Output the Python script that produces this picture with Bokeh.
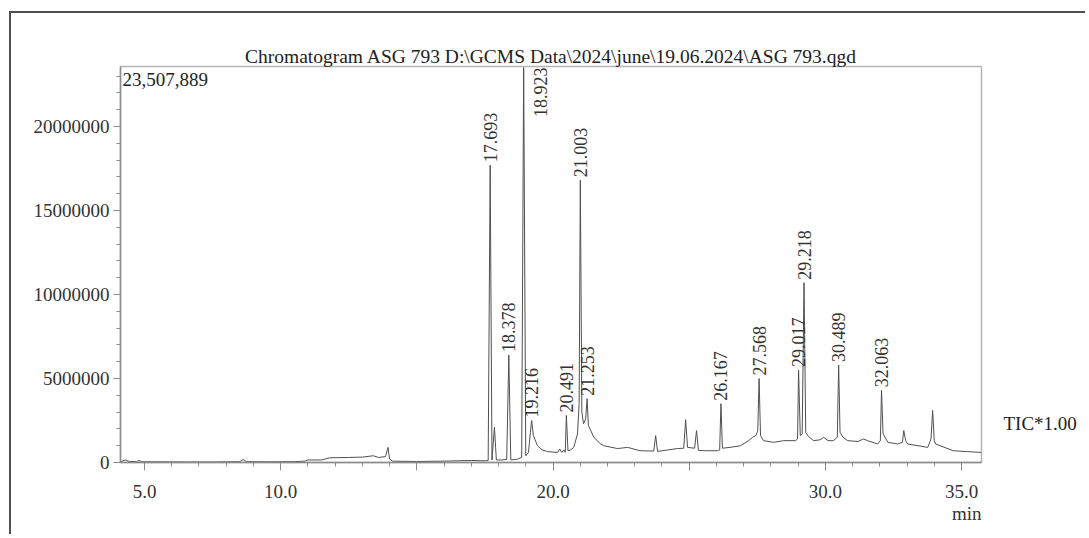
import math
from bokeh.plotting import figure
from bokeh.models import (ColumnDataSource, FixedTicker, NumeralTickFormatter,
                          Label, LabelSet, Range1d, LinearAxis, Title,
                          CustomJSTickFormatter)
from bokeh.embed import file_html
from bokeh.resources import INLINE

# ---------------- data ----------------
TITLE = "Chromatogram ASG 793 D:\\GCMS Data\\2024\\june\\19.06.2024\\ASG 793.qgd"
TRACE_NAME = "TIC*1.00"
X_UNIT = "min"

# retention time (min) of the TIC trace points
time_min = [
    4.12, 4.30, 4.45, 4.70, 4.80, 4.90, 5.5, 6.5, 7.5, 8.5, 8.62, 8.75, 9.5, 10.5,
    10.9, 11.0, 11.5, 11.8, 12.5, 13.0, 13.4, 13.6, 13.85, 13.94, 14.0, 14.1, 15.0,
    16.0, 17.0, 17.5, 17.62, 17.693, 17.76, 17.85, 17.92, 18.1, 18.30, 18.378, 18.45,
    18.7, 18.85, 18.923, 19.0, 19.1, 19.17, 19.216, 19.28, 19.43, 19.6, 19.8, 20.0,
    20.17, 20.25, 20.32, 20.40, 20.45, 20.491, 20.55, 20.65, 20.76, 20.9, 20.96,
    21.003, 21.06, 21.12, 21.2, 21.253, 21.3, 21.5, 21.75, 21.86, 22.37, 22.74, 23.2,
    23.70, 23.77, 23.84, 24.57, 24.80, 24.87, 24.94, 25.2, 25.27, 25.34, 25.6, 26.04,
    26.12, 26.167, 26.22, 26.5, 26.89, 27.18, 27.33, 27.45, 27.52, 27.568, 27.62,
    27.73, 28.1, 28.47, 28.9, 28.98, 29.017, 29.08, 29.15, 29.218, 29.28, 29.35,
    29.57, 29.80, 29.94, 30.1, 30.3, 30.44, 30.489, 30.54, 30.65, 30.82, 31.2, 31.4,
    31.55, 31.92, 32.02, 32.063, 32.12, 32.3, 32.65, 32.83, 32.88, 32.95, 33.02,
    33.4, 33.76, 33.88, 33.94, 34.0, 34.05, 34.7, 35.2, 35.73,
]
# intensity of the TIC trace points, in millions of counts
intensity_millions = [
    0.05, 0.15, 0.06, 0.05, 0.12, 0.04, 0.04, 0.03, 0.03, 0.05, 0.18, 0.05, 0.04, 0.05,
    0.08, 0.15, 0.15, 0.28, 0.30, 0.32, 0.40, 0.30, 0.35, 0.90, 0.20, 0.08, 0.06,
    0.08, 0.12, 0.10, 0.12, 17.7, 0.15, 2.1, 0.15, 0.15, 0.18, 6.4, 0.15,
    0.20, 0.30, 23.507889, 0.40, 0.60, 1.8, 2.5, 1.6, 1.0, 0.75, 0.65, 0.62,
    0.60, 0.80, 0.60, 0.75, 0.60, 2.8, 0.70, 0.75, 0.90, 1.7, 3.5,
    16.8, 3.0, 2.3, 2.6, 3.8, 2.2, 1.5, 1.1, 1.0, 0.83, 0.90, 0.70,
    0.68, 1.6, 0.66, 0.83, 0.85, 2.55, 0.90, 0.85, 1.9, 0.72, 0.70, 0.70,
    0.75, 3.5, 0.85, 0.90, 1.0, 1.3, 1.5, 1.6, 1.9, 5.0, 1.6,
    1.3, 1.2, 1.3, 1.3, 1.4, 5.5, 1.6, 1.7, 10.7, 1.8, 1.6,
    1.3, 1.35, 1.5, 1.3, 1.3, 1.5, 5.8, 1.8, 1.5, 1.3, 1.25, 1.4,
    1.3, 1.1, 1.3, 4.3, 1.7, 1.2, 1.1, 1.2, 1.9, 1.3, 1.1,
    1.0, 0.9, 1.4, 3.1, 1.3, 1.1, 0.7, 0.65, 0.6,
]

# labelled peaks
peak_rt = [17.693, 18.378, 18.923, 19.216, 20.491, 21.003, 21.253,
           26.167, 27.568, 29.017, 29.218, 30.489, 32.063]
peak_height = [17700000, 6400000, 23507889, 2500000, 2800000, 16800000, 3800000,
               3500000, 5000000, 5500000, 10700000, 5800000, 4300000]

x_major_ticks = [5, 10, 15, 20, 25, 30, 35]
x_unlabelled_ticks = [15, 25]
y_major_ticks = [0, 5000000, 10000000, 15000000, 20000000]

# ---------------- layout constants ----------------
FONT = "Liberation Serif"
OX, OY = 11, 13            # page position of the canvas (outer frame corner)
W, H = 1076, 523
FRAME_L, FRAME_T, FRAME_R, FRAME_B = 120, 66, 981, 462   # page pixels
PX_PER_MIN = (961 - 144) / 30.0
PX_PER_COUNT = (462 - 126) / 20000000.0
X0 = 5 - (144 - FRAME_L) / PX_PER_MIN
X1 = 35 + (FRAME_R - 961) / PX_PER_MIN
Y0 = 0.0
Y1 = (FRAME_B - FRAME_T) / PX_PER_COUNT

intensity = [v * 1e6 for v in intensity_millions]
source = ColumnDataSource(data=dict(t=time_min, i=intensity))

p = figure(width=W, height=H, output_backend="svg", toolbar_location=None,
           x_range=Range1d(X0, X1), y_range=Range1d(Y0, Y1),
           min_border_left=FRAME_L - OX, min_border_right=W - (FRAME_R - OX),
           min_border_top=FRAME_T - OY, min_border_bottom=H - (FRAME_B - OY),
           background_fill_color="white", border_fill_color="white",
           margin=(OY - 2, 0, 0, OX - 2))
p.styles = {"border-top": "2px solid #505050", "border-left": "2px solid #505050"}

p.line("t", "i", source=source, line_color="#505050", line_width=1.0)

# title
p.title.text = TITLE
p.title.align = "center"
p.title.text_font = FONT
p.title.text_font_size = "19.5px"
p.title.text_font_style = "normal"
p.title.text_color = "#222222"
p.title.standoff = 0

# grid / outline
p.xgrid.visible = False
p.ygrid.visible = False
p.outline_line_color = "#b5b5b5"
p.outline_line_width = 1.5

# x axis
p.xaxis.ticker = FixedTicker(ticks=x_major_ticks,
                             minor_ticks=list(range(5, 36)))
p.xaxis.formatter = NumeralTickFormatter(format="0.0")
p.xaxis.major_label_overrides = {t: "" for t in x_unlabelled_ticks}
# y axis
p.yaxis.ticker = FixedTicker(ticks=y_major_ticks,
                             minor_ticks=[k * 1000000 for k in range(0, 24)])
p.yaxis.formatter = NumeralTickFormatter(format="0")

for ax in (p.xaxis[0], p.yaxis[0]):
    ax.axis_line_color = "#8c8c8c"
    ax.axis_line_width = 1.5
    ax.major_tick_line_color = "#8c8c8c"
    ax.minor_tick_line_color = "#8c8c8c"
    ax.major_tick_in = 0
    ax.minor_tick_in = 0
    ax.major_label_text_font = FONT
    ax.major_label_text_font_size = "19px"
    ax.major_label_text_color = "#333333"
p.xaxis.major_tick_out = 8
p.xaxis.minor_tick_out = 4
p.xaxis.major_label_standoff = 14
p.yaxis.major_tick_out = 7
p.yaxis.minor_tick_out = 4
p.yaxis.major_label_standoff = 4

# unit label under the x axis, right-aligned with the frame
p.add_layout(Title(text=X_UNIT, align="right", text_font=FONT,
                   text_font_size="19px", text_font_style="normal",
                   text_color="#333333", standoff=0), "below")

# trace name at the right end of the trace
end_t, end_i = time_min[-1], intensity[-1]
tic_axis = LinearAxis(ticker=FixedTicker(ticks=[end_i + 29 / PX_PER_COUNT]),
                      formatter=CustomJSTickFormatter(code="return %r;" % TRACE_NAME),
                      axis_line_color=None, major_tick_line_color=None,
                      minor_tick_line_color=None, major_tick_out=0,
                      minor_tick_out=0, major_label_standoff=22,
                      major_label_text_font=FONT, major_label_text_font_size="19px",
                      major_label_text_color="#222222")
p.add_layout(tic_axis, "right")

# peak labels (the off-scale peak is labelled beside its line)
visible = [k for k, h in enumerate(peak_height) if h < Y1 * 0.97]
clipped = [k for k, h in enumerate(peak_height) if h >= Y1 * 0.97]
lab_src = ColumnDataSource(data=dict(
    x=[peak_rt[k] for k in visible],
    y=[peak_height[k] for k in visible],
    text=["%.3f" % peak_rt[k] for k in visible]))
p.add_layout(LabelSet(x="x", y="y", text="text", source=lab_src,
                      angle=math.pi / 2, text_align="left",
                      text_baseline="middle", y_offset=3,
                      text_font=FONT, text_font_size="18px",
                      text_color="#333333"))
for k in clipped:
    p.add_layout(Label(x=peak_rt[k], y=Y1, text="%.3f" % peak_rt[k],
                       angle=math.pi / 2, text_align="right",
                       text_baseline="middle", x_offset=17, y_offset=-1,
                       text_font=FONT, text_font_size="18px",
                       text_color="#333333"))

# max intensity at top-left
p.add_layout(Label(x=X0, y=Y1, text="{:,}".format(max(peak_height)),
                   text_align="left", text_baseline="top",
                   x_offset=2, y_offset=-6,
                   text_font=FONT, text_font_size="19px", text_color="#222222"))

open("out.html", "w").write(file_html(p, INLINE))
